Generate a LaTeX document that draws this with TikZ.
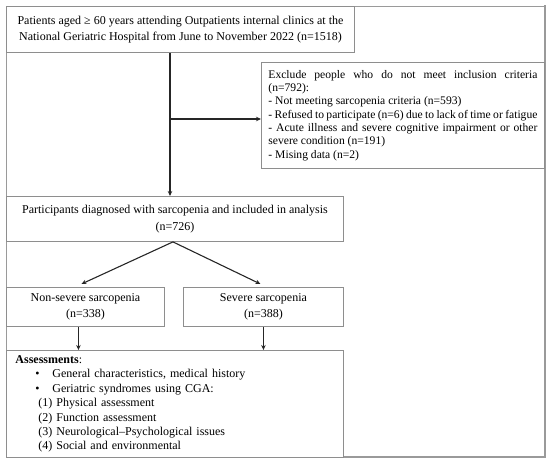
\documentclass[tikz,border=0pt]{standalone}
\usepackage{fontspec}
\setmainfont{Liberation Serif}
\usetikzlibrary{arrows.meta,calc}
\definecolor{boxgray}{HTML}{8E8E8E}
\definecolor{framegray}{HTML}{9A9A9A}
\newcommand{\jline}[1]{\makebox[269pt][s]{\spaceskip=0pt\xspaceskip=0pt #1}}
\newcommand{\nline}[1]{{\spaceskip=0pt\xspaceskip=0pt #1}}
\begin{document}
\begin{tikzpicture}[x=1pt,y=-1pt,
  box/.style={draw=boxgray, line width=0.9pt, inner sep=0pt, anchor=north west, fill=white},
  arr/.style={-{Stealth[length=5pt,width=4.5pt]}, line width=1.1pt, draw=black!85},
  mainfont/.style={font=\fontsize{12}{16.5}\selectfont}]
\useasboundingbox (0,0) rectangle (550,463);
% outer frame
\draw[framegray, line width=0.8pt] (6,6) rectangle (545,457);
\draw[framegray, line width=2pt] (545,5) -- (545,458);
\draw[framegray, line width=1.4pt] (6,457) -- (545,457);
% nodes
\node[box, mainfont, minimum width=348pt, minimum height=46pt, align=center] (top) at (6,6)
  {Patients aged ≥ 60 years attending Outpatients internal clinics at the\\
   National Geriatric Hospital from June to November 2022 (n=1518)};
\node[box, minimum width=283pt, minimum height=106pt, text width=269pt, align=left,
  font=\fontsize{11.6}{13.3}\selectfont] (excl) at (261,62)
  {\jline{Exclude people who do not meet inclusion criteria}\\
   (n=792):\\
   \nline{- Not meeting sarcopenia criteria (n=593)}\\
   \jline{- Refused to participate (n=6) due to lack of time or fatigue}\\
   \jline{- Acute illness and severe cognitive impairment or other}\\
   \nline{severe condition (n=191)}\\
   \nline{- Mising data (n=2)}};
\node[box, mainfont, minimum width=337pt, minimum height=45pt, align=center] (part) at (6,196)
  {Participants diagnosed with sarcopenia and included in analysis\\(n=726)};
\node[box, mainfont, minimum width=158pt, minimum height=39pt, align=center] (nons) at (6,287)
  {Non-severe sarcopenia\\(n=338)};
\node[box, mainfont, minimum width=160pt, minimum height=39pt, align=center] (sev) at (183,287)
  {Severe sarcopenia\\(n=388)};
\node[box, minimum width=337pt, minimum height=107pt, text width=319pt, align=left,
  font=\fontsize{12}{14.4}\selectfont] (assess) at (6,350)
  {\textbf{Assessments}:\\
   \hspace*{20pt}\makebox[17pt][l]{\textbullet}General characteristics, medical history\\
   \hspace*{20pt}\makebox[17pt][l]{\textbullet}Geriatric syndromes using CGA:\\
   \hspace*{23pt}(1) Physical assessment\\
   \hspace*{23pt}(2) Function assessment\\
   \hspace*{23pt}(3) Neurological–Psychological issues\\
   \hspace*{23pt}(4) Social and environmental};
% connectors
\coordinate (vx) at (170,0);
\draw[arr] (vx |- top.south) -- (vx |- part.north);
\coordinate (bj) at (170,119);
\draw[arr] (bj) -- (bj -| excl.west);
\coordinate (ps) at ($(part.south)+(-2,0)$);
\draw[arr] (ps) -- ($(nons.north)+(-4,-3)$);
\draw[arr] (ps) -- ($(sev.north)+(-3,-3)$);
\coordinate (nd) at ($(nons.south)+(-7,0)$);
\draw[arr] (nd) -- (nd |- assess.north);
\draw[arr] (sev.south) -- (sev.south |- assess.north);
\end{tikzpicture}
\end{document}
